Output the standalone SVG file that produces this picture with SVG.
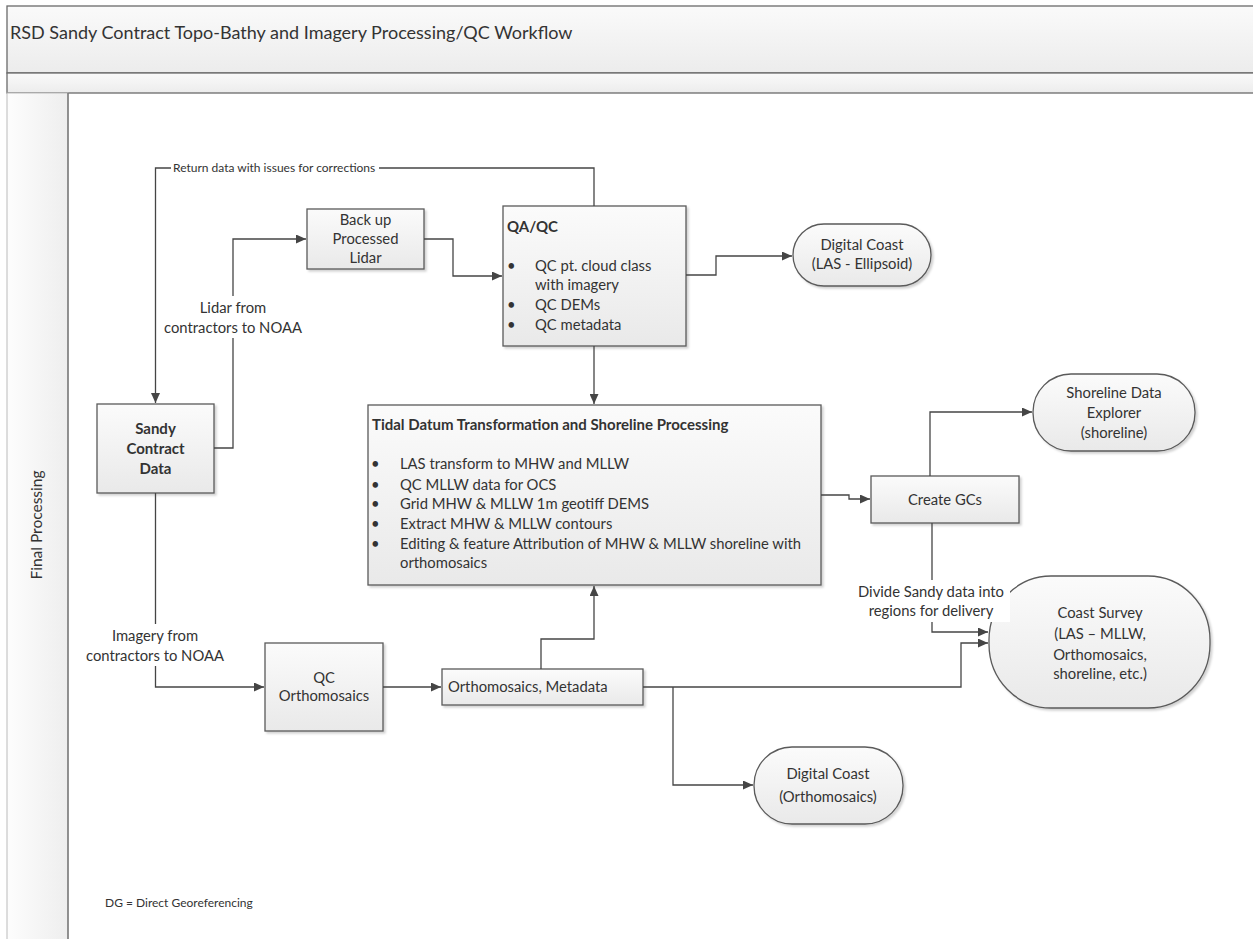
<svg xmlns="http://www.w3.org/2000/svg" width="1253" height="939" viewBox="0 0 1253 939">
  <style>
    text { font-family: Lato, "Liberation Sans", sans-serif; fill: #333; }
    .t { font-size: 14.8px; }
    .c { text-anchor: middle; }
    .b { font-weight: bold; font-size: 15px; }
    .sm { font-size: 12px; }
    .box { fill: url(#boxFill); stroke: #5a5a5a; stroke-width: 1.3; filter: url(#shadow); }
    .con { fill: none; stroke: #454545; stroke-width: 1.3; }
    .arr { marker-end: url(#arrow); }
    .frame { stroke: #6a6a6a; stroke-width: 1.3; }
    .bg { fill: #fff; }
  </style>
  <defs>
    <linearGradient id="boxFill" x1="0" y1="0" x2="0" y2="1">
      <stop offset="0" stop-color="#fbfbfb"/>
      <stop offset="1" stop-color="#e9e9e9"/>
    </linearGradient>
    <linearGradient id="bandFill" x1="0" y1="0" x2="0" y2="1">
      <stop offset="0" stop-color="#fafafa"/>
      <stop offset="1" stop-color="#ececec"/>
    </linearGradient>
    <linearGradient id="laneFill" x1="0" y1="0" x2="1" y2="0">
      <stop offset="0" stop-color="#fdfdfd"/>
      <stop offset="1" stop-color="#eeeeee"/>
    </linearGradient>
    <filter id="shadow" x="-10%" y="-10%" width="130%" height="130%">
      <feDropShadow dx="2" dy="2" stdDeviation="1" flood-color="#000" flood-opacity="0.18"/>
    </filter>
    <marker id="arrow" markerUnits="userSpaceOnUse" markerWidth="11" markerHeight="9" refX="10" refY="4.5" orient="auto">
      <path d="M0,0 L10,4.5 L0,9 z" fill="#454545"/>
    </marker>
  </defs>

  <!-- swimlane frame -->
  <g id="frame">
    <rect x="0" y="0" width="1253" height="939" fill="#fff"/>
    <rect x="7" y="6" width="1260" height="67" fill="url(#bandFill)" class="frame"/>
    <rect x="7" y="73" width="1260" height="20" fill="url(#bandFill)" class="frame"/>
    <rect x="7" y="93" width="61" height="860" fill="url(#laneFill)" stroke="#bbb" stroke-width="1"/>
    <line x1="68" y1="93" x2="68" y2="939" class="frame"/>
    <text x="10" y="39" style="font-size:18px">RSD Sandy Contract Topo-Bathy and Imagery Processing/QC Workflow</text>
    <text x="42" y="525" class="c" style="font-size:15.5px" transform="rotate(-90 42 525)">Final Processing</text>
  </g>

  <!-- process steps -->
  <g id="sandy-contract-data">
    <rect x="97" y="404" width="117" height="89" class="box"/>
    <text x="155.5" y="434" class="t c b">Sandy</text>
    <text x="155.5" y="454" class="t c b">Contract</text>
    <text x="155.5" y="474" class="t c b">Data</text>
  </g>

  <g id="backup-lidar">
    <rect x="307" y="209" width="117" height="60" class="box"/>
    <text x="365.5" y="225" class="t c">Back up</text>
    <text x="365.5" y="244" class="t c">Processed</text>
    <text x="365.5" y="263" class="t c">Lidar</text>
  </g>

  <g id="qa-qc">
    <rect x="503" y="206" width="183" height="140" class="box"/>
    <text x="507" y="232" class="t b">QA/QC</text>
    <g class="t">
      <text x="507" y="271">•</text><text x="535" y="271">QC pt. cloud class</text>
      <text x="535" y="290">with imagery</text>
      <text x="507" y="310">•</text><text x="535" y="310">QC DEMs</text>
      <text x="507" y="330">•</text><text x="535" y="330">QC metadata</text>
    </g>
  </g>

  <g id="digital-coast-las">
    <rect x="793" y="224" width="138" height="62" rx="31" ry="31" class="box"/>
    <text x="862" y="250" class="t c">Digital Coast</text>
    <text x="862" y="269" class="t c">(LAS - Ellipsoid)</text>
  </g>

  <g id="tidal-datum">
    <rect x="368" y="405" width="453" height="180" class="box"/>
    <text x="372" y="430" class="t b">Tidal Datum Transformation and Shoreline Processing</text>
    <g class="t">
      <text x="371" y="469">•</text><text x="400" y="469">LAS transform to MHW and MLLW</text>
      <text x="371" y="490">•</text><text x="400" y="490">QC MLLW data for OCS</text>
      <text x="371" y="509">•</text><text x="400" y="509">Grid MHW &amp; MLLW 1m geotiff DEMS</text>
      <text x="371" y="529">•</text><text x="400" y="529">Extract MHW &amp; MLLW contours</text>
      <text x="371" y="549">•</text><text x="400" y="549">Editing &amp; feature Attribution of MHW &amp; MLLW shoreline with</text>
      <text x="400" y="568">orthomosaics</text>
    </g>
  </g>

  <g id="create-gcs">
    <rect x="871" y="476" width="148" height="47" class="box"/>
    <text x="945" y="505" class="t c">Create GCs</text>
  </g>

  <g id="shoreline-data-explorer">
    <rect x="1033" y="374" width="162" height="77" rx="38" ry="38" class="box"/>
    <text x="1114" y="398" class="t c">Shoreline Data</text>
    <text x="1114" y="418" class="t c">Explorer</text>
    <text x="1114" y="438" class="t c">(shoreline)</text>
  </g>

  <g id="coast-survey">
    <rect x="989" y="576" width="221" height="132" rx="62" ry="64" class="box"/>
    <text x="1100" y="618" class="t c">Coast Survey</text>
    <text x="1100" y="639" class="t c">(LAS – MLLW,</text>
    <text x="1100" y="660" class="t c">Orthomosaics,</text>
    <text x="1100" y="679" class="t c">shoreline, etc.)</text>
  </g>

  <g id="qc-orthomosaics">
    <rect x="265" y="643" width="118" height="88" class="box"/>
    <text x="324" y="683" class="t c">QC</text>
    <text x="324" y="701" class="t c">Orthomosaics</text>
  </g>

  <g id="orthomosaics-metadata">
    <rect x="442" y="669" width="201" height="36" class="box"/>
    <text x="448" y="692" class="t">Orthomosaics, Metadata</text>
  </g>

  <g id="digital-coast-ortho">
    <rect x="754" y="747" width="149" height="77" rx="38" ry="38" class="box"/>
    <text x="828" y="779" class="t c">Digital Coast</text>
    <text x="828" y="802" class="t c">(Orthomosaics)</text>
  </g>

  <!-- connectors and their labels -->
  <g id="connectors">
    <path class="con arr" d="M594,206 V168 H155.5 V403"/>
    <rect class="bg" x="171" y="161" width="208" height="14"/>
    <text x="173" y="172" class="sm">Return data with issues for corrections</text>

    <path class="con arr" d="M214,448 H233 V239 H306"/>
    <rect class="bg" x="163" y="296" width="140" height="42"/>
    <text x="233" y="313" class="t c">Lidar from</text>
    <text x="233" y="333" class="t c">contractors to NOAA</text>

    <path class="con arr" d="M424,239 H453 V276 H502"/>
    <path class="con arr" d="M686,275 H716 V256 H792"/>
    <path class="con arr" d="M594,346 V404"/>

    <path class="con arr" d="M155.5,493 V687 H264"/>
    <rect class="bg" x="84" y="624" width="144" height="42"/>
    <text x="155" y="641" class="t c">Imagery from</text>
    <text x="155" y="661" class="t c">contractors to NOAA</text>

    <path class="con arr" d="M383,687 H441"/>
    <path class="con arr" d="M541,669 V639 H594 V586"/>
    <path class="con arr" d="M643,687 H961 V643 H988"/>
    <path class="con arr" d="M673,687 V785 H753"/>

    <path class="con arr" d="M821,495 H849 V499 H870"/>
    <path class="con arr" d="M930,476 V412 H1032"/>
    <path class="con arr" d="M932,523 V632 H988"/>
    <rect class="bg" x="854" y="580" width="156" height="42"/>
    <text x="931" y="597" class="t c">Divide Sandy data into</text>
    <text x="931" y="616" class="t c">regions for delivery</text>
  </g>

  <text x="105" y="907" class="sm">DG = Direct Georeferencing</text>
</svg>
